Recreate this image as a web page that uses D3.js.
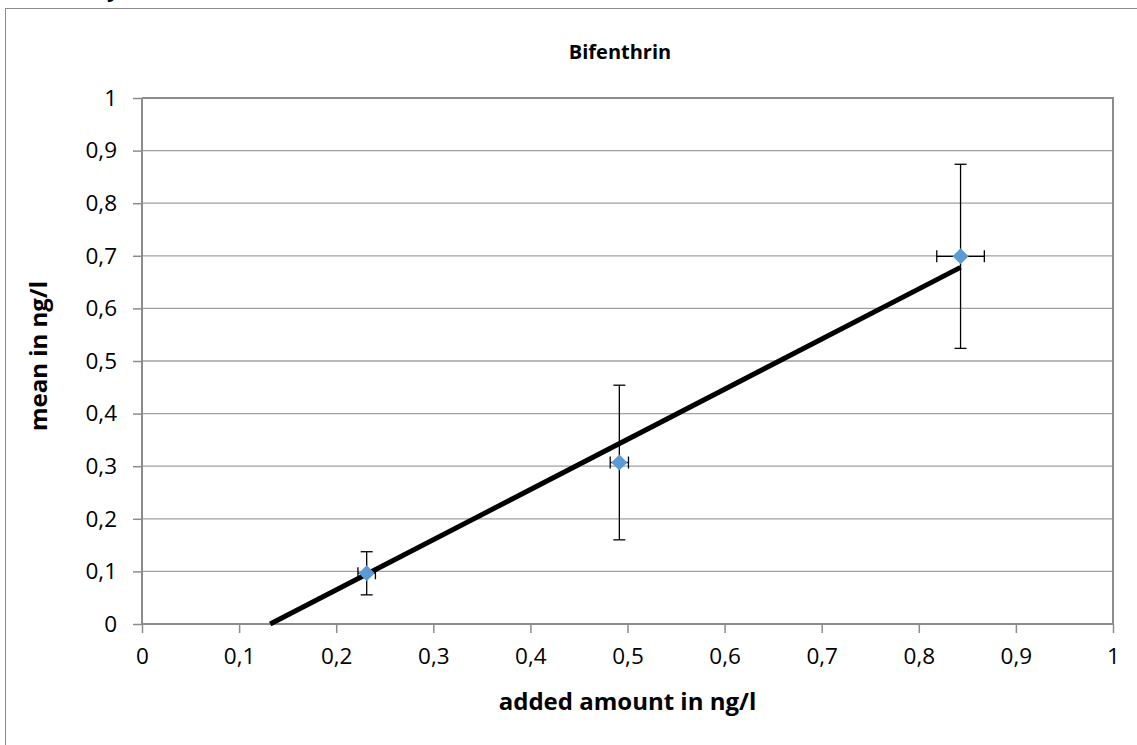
<!doctype html>
<html>
  <head>
    <style>
      body { margin: 0; background: white; }
      text { font-family: "Open Sans", sans-serif; fill: #000; }
      .tick text { font-size: 22.5px; }
    </style>
    <script src="https://cdnjs.cloudflare.com/ajax/libs/d3/7.8.5/d3.min.js"></script>
  </head>
  <body>
    <div id="chart"></div>
    <script>
      // values
      var addedAmount = [0.2314, 0.4916, 0.843];
      var meanValue   = [0.0964, 0.307, 0.699];
      var xError      = [0.009, 0.0094, 0.0245];
      var yError      = [0.041, 0.147, 0.175];
      var trendX      = [0.132, 0.843];
      var trendY      = [0, 0.678];
      var tickValues  = [0, 0.1, 0.2, 0.3, 0.4, 0.5, 0.6, 0.7, 0.8, 0.9, 1];

      var width = 1137, height = 745;
      var plot = {left: 142, top: 98, right: 1113, bottom: 624};

      var svg = d3.select("#chart").append("svg")
                  .attr("width", width)
                  .attr("height", height);

      // chart frame (cut off on the right and bottom)
      svg.append("rect")
         .attr("x", 5.5).attr("y", 8.5)
         .attr("width", 1300).attr("height", 900)
         .attr("fill", "white")
         .attr("stroke", "#8c8c8c")
         .attr("stroke-width", 1);

      // descender of a caption above the picture
      svg.append("text")
         .attr("x", 107).attr("y", -3)
         .style("font-size", "22px")
         .style("font-weight", "bold")
         .text("y");

      var x = d3.scaleLinear().domain([0, 1]).range([plot.left, plot.right]);
      var y = d3.scaleLinear().domain([0, 1]).range([plot.bottom, plot.top]);
      var fmt = function(d) { return d3.format(".1~f")(d).replace(".", ","); };

      // horizontal gridlines
      svg.append("g")
         .selectAll("line")
         .data(tickValues.slice(1))
         .enter().append("line")
         .attr("x1", plot.left).attr("x2", plot.right)
         .attr("y1", function(d) { return y(d); })
         .attr("y2", function(d) { return y(d); })
         .attr("stroke", "#a0a0a0")
         .attr("stroke-width", 1.3);

      // plot border top & right
      svg.append("path")
         .attr("d", "M" + plot.left + "," + plot.top + "H" + plot.right + "V" + plot.bottom)
         .attr("fill", "none")
         .attr("stroke", "#8c8c8c")
         .attr("stroke-width", 2);

      var xAxis = svg.append("g")
         .attr("transform", "translate(0," + plot.bottom + ")")
         .call(d3.axisBottom(x).tickValues(tickValues).tickFormat(fmt).tickSize(9).tickPadding(15));
      var yAxis = svg.append("g")
         .attr("transform", "translate(" + plot.left + ",0)")
         .call(d3.axisLeft(y).tickValues(tickValues).tickFormat(fmt).tickSize(9).tickPadding(16));

      [xAxis, yAxis].forEach(function(ax) {
        ax.select(".domain").attr("stroke", "#8c8c8c").attr("stroke-width", 2);
        ax.selectAll(".tick line").attr("stroke", "#8c8c8c").attr("stroke-width", 1.5);
        ax.selectAll(".tick text").attr("fill", "#000").style("font-family", "'Open Sans', sans-serif");
      });
      xAxis.select(".domain").attr("d", "M" + plot.left + ",0H" + plot.right);
      yAxis.select(".domain").attr("d", "M0," + plot.top + "V" + plot.bottom);

      var points = addedAmount.map(function(d, i) {
        return {x: d, y: meanValue[i], ex: xError[i], ey: yError[i]};
      });

      // error bars
      var eb = svg.append("g").attr("stroke", "#000").attr("stroke-width", 1.3);
      points.forEach(function(p) {
        var cx = x(p.x), cy = y(p.y);
        var y0 = y(p.y - p.ey), y1 = y(p.y + p.ey);
        var x0 = x(p.x - p.ex), x1 = x(p.x + p.ex);
        eb.append("line").attr("x1", cx).attr("x2", cx).attr("y1", y0).attr("y2", y1);
        eb.append("line").attr("x1", cx - 6).attr("x2", cx + 6).attr("y1", y0).attr("y2", y0);
        eb.append("line").attr("x1", cx - 6).attr("x2", cx + 6).attr("y1", y1).attr("y2", y1);
        eb.append("line").attr("x1", x0).attr("x2", x1).attr("y1", cy).attr("y2", cy);
        eb.append("line").attr("x1", x0).attr("x2", x0).attr("y1", cy - 6).attr("y2", cy + 6);
        eb.append("line").attr("x1", x1).attr("x2", x1).attr("y1", cy - 6).attr("y2", cy + 6);
      });

      // trend line
      svg.append("path")
         .datum(trendX.map(function(d, i) { return [d, trendY[i]]; }))
         .attr("d", d3.line().x(function(d) { return x(d[0]); }).y(function(d) { return y(d[1]); }))
         .attr("fill", "none")
         .attr("stroke", "#000")
         .attr("stroke-width", 5);

      // diamond markers
      svg.append("g")
         .selectAll("path")
         .data(points)
         .enter().append("path")
         .attr("transform", function(d) { return "translate(" + x(d.x) + "," + y(d.y) + ")"; })
         .attr("d", "M0,-8L8,0L0,8L-8,0Z")
         .attr("fill", "#5b9bd5");

      // titles
      svg.append("text")
         .attr("x", 620).attr("y", 51)
         .attr("text-anchor", "middle")
         .attr("dominant-baseline", "central")
         .style("font-size", "20px")
         .style("font-weight", "bold")
         .text("Bifenthrin");

      svg.append("text")
         .attr("x", (plot.left + plot.right) / 2).attr("y", 700)
         .attr("text-anchor", "middle")
         .attr("dominant-baseline", "central")
         .style("font-size", "24px")
         .style("font-weight", "bold")
         .text("added amount in ng/l");

      svg.append("text")
         .attr("transform", "translate(37,356) rotate(-90)")
         .attr("text-anchor", "middle")
         .attr("dominant-baseline", "central")
         .style("font-size", "24px")
         .style("font-weight", "bold")
         .text("mean in ng/l");
    </script>
  </body>
</html>
